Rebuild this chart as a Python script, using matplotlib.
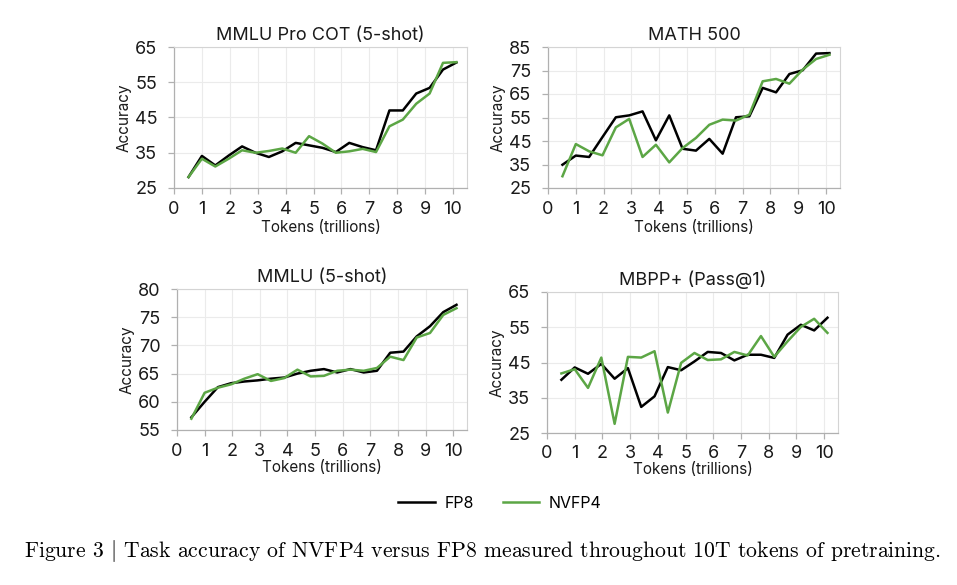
import matplotlib
matplotlib.use("Agg")
import matplotlib.pyplot as plt

plt.rcParams['font.family'] = ['Inter', 'DejaVu Sans']
plt.rcParams['mathtext.fontset'] = 'cm'

# tokens seen (trillions) at each checkpoint
tokens = [0.52, 1.0, 1.48, 1.96, 2.44, 2.92, 3.4, 3.88, 4.36, 4.84, 5.32,
          5.8, 6.28, 6.76, 7.24, 7.72, 8.2, 8.68, 9.16, 9.64, 10.12]

mmlu_pro_fp8 = [28.1, 34.1, 31.4, 34.2, 36.8, 35.0, 33.8, 35.4, 37.8, 37.1, 36.4,
                35.2, 37.8, 36.6, 35.7, 47.0, 47.0, 51.8, 53.4, 58.6, 60.6]
mmlu_pro_nvfp4 = [28.1, 33.3, 31.1, 33.3, 35.7, 35.0, 35.5, 36.2, 35.0, 39.7, 37.6,
                  35.0, 35.4, 36.1, 35.2, 42.5, 44.4, 48.9, 51.8, 60.5, 60.7]

math_fp8 = [34.9, 38.8, 38.2, 46.7, 55.1, 55.9, 57.6, 45.3, 55.9, 41.7, 40.9,
            45.9, 39.6, 55.1, 55.5, 67.6, 65.7, 73.5, 75.1, 82.2, 82.4]
math_nvfp4 = [30.0, 43.7, 40.6, 38.9, 50.8, 54.4, 38.2, 43.4, 35.9, 42.0, 46.3,
              51.9, 54.1, 53.7, 56.2, 70.4, 71.4, 69.4, 75.4, 79.9, 81.7]

mmlu_fp8 = [57.25, 60.0, 62.6, 63.3, 63.6, 63.8, 64.1, 64.3, 65.0, 65.5, 65.8,
            65.2, 65.8, 65.2, 65.5, 68.7, 68.9, 71.6, 73.4, 75.9, 77.2]
mmlu_nvfp4 = [57.0, 61.6, 62.5, 63.1, 64.1, 64.9, 63.7, 64.2, 65.7, 64.5, 64.6,
              65.5, 65.7, 65.5, 66.0, 68.0, 67.4, 71.4, 72.2, 75.4, 76.6]

mbpp_fp8 = [40.1, 43.6, 41.8, 44.6, 40.4, 43.4, 32.4, 35.4, 43.7, 42.8, 45.3,
            48.0, 47.7, 45.6, 47.2, 47.2, 46.3, 52.9, 55.7, 54.1, 57.7]
mbpp_nvfp4 = [41.9, 43.1, 37.8, 46.4, 27.6, 46.6, 46.4, 48.2, 30.8, 44.9, 47.7,
              45.7, 45.9, 48.0, 47.0, 52.5, 46.6, 51.0, 55.1, 57.4, 53.4]

titles = ['MMLU Pro COT (5-shot)', 'MATH 500', 'MMLU (5-shot)', 'MBPP+ (Pass@1)']
fp8_series = [mmlu_pro_fp8, math_fp8, mmlu_fp8, mbpp_fp8]
nvfp4_series = [mmlu_pro_nvfp4, math_nvfp4, mmlu_nvfp4, mbpp_nvfp4]
yticks = [[25, 35, 45, 55, 65], [25, 35, 45, 55, 65, 75, 85],
          [55, 60, 65, 70, 75, 80], [25, 35, 45, 55, 65]]

W, H = 957, 585
# axes boxes in pixels: left, top, right, bottom
boxes = [(174, 47, 467, 188), (548, 47, 840, 188),
         (177, 289, 467, 430), (547, 292, 838, 433)]

GREEN = '#5ca645'

fig = plt.figure(figsize=(W / 100, H / 100), dpi=100)

for i in range(4):
    l, t, r, b = boxes[i]
    ax = fig.add_axes([l / W, 1 - b / H, (r - l) / W, (b - t) / H])
    ax.plot(tokens, fp8_series[i], color='black', lw=1.8, label='FP8', zorder=3)
    ax.plot(tokens, nvfp4_series[i], color=GREEN, lw=1.8, label='NVFP4', zorder=3)
    ax.set_xlim(0, 10.5)
    ax.set_ylim(yticks[i][0], yticks[i][-1])
    ax.set_xticks(range(11))
    ax.set_yticks(yticks[i])
    ax.grid(True, color='#ebebeb', lw=0.8, zorder=0)
    for s in ['top', 'right']:
        ax.spines[s].set_color('#d4d4d4')
        ax.spines[s].set_linewidth(0.8)
    for s in ['left', 'bottom']:
        ax.spines[s].set_color('#b0b0b0')
        ax.spines[s].set_linewidth(0.9)
    ax.tick_params(axis='both', colors='#b0b0b0', labelcolor='#1a1a1a',
                   labelsize=13, length=4, width=0.9)
    ax.tick_params(axis='x', pad=5)
    ax.tick_params(axis='y', pad=8)
    ax.set_title(titles[i], fontsize=13, pad=5, color='#1a1a1a')
    ax.set_ylabel('Accuracy', fontsize=11, labelpad=2, color='#1a1a1a')
    ax.set_xlabel('Tokens (trillions)', fontsize=11, labelpad=2 if i < 2 else 0,
                  color='#1a1a1a')
    if i == 0:
        handles, labels = ax.get_legend_handles_labels()

fig.legend(handles, labels, loc='center', bbox_to_anchor=(500 / W, 1 - 503 / H),
           ncol=2, frameon=False, fontsize=11.5, handlelength=2.3,
           columnspacing=1.8, handletextpad=0.6)

fig.text(483 / W, 1 - 551 / H,
         r'Figure 3 $|$ Task accuracy of NVFP4 versus FP8 measured throughout 10T tokens of pretraining.',
         ha='center', va='center', fontsize=15.6, family='cmr10', color='black')

fig.savefig('out.png', dpi=100, facecolor='white')
